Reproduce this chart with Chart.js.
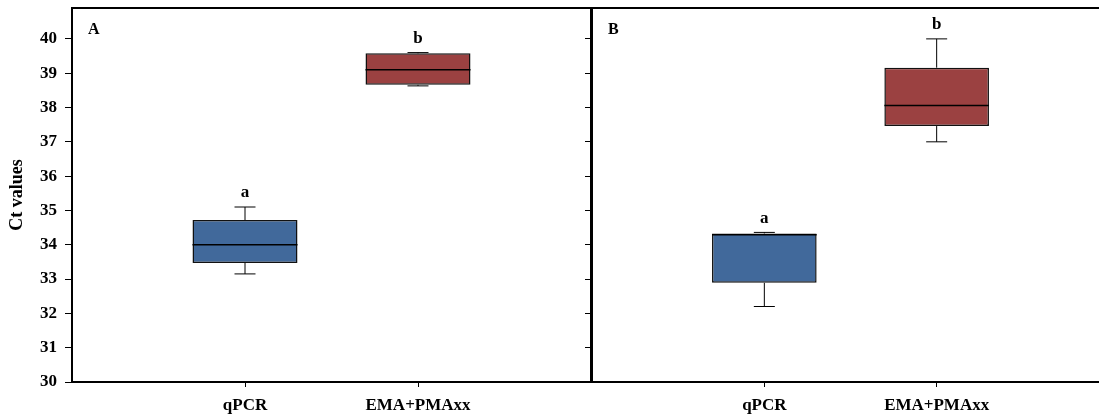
<!DOCTYPE html>
<html>
<head>
<meta charset="utf-8">
<script src="https://cdn.jsdelivr.net/npm/chart.js@4.4.1/dist/chart.umd.min.js"></script>
<style>
    html, body { margin: 0; padding: 0; background: #fff; overflow: hidden; width: 1099px; height: 419px; }
    canvas { position: absolute; top: 0; }
    #chartA { left: 0; }
    #chartB { left: 520px; }
</style>
</head>
<body>
<canvas id="chartA" width="600" height="419"></canvas>
<canvas id="chartB" width="600" height="419"></canvas>
<script>
// Data
const categories = ['qPCR', 'EMA+PMAxx'];
const letters = ['a', 'b'];
const yMin = 30;
const yMax = 40.9;

// Panel A
const lowA = [33.15, 38.63];
const q1A = [33.47, 38.66];
const medianA = [34.0, 39.1];
const q3A = [34.72, 39.58];
const highA = [35.1, 39.6];

// Panel B
const lowB = [32.2, 37.0];
const q1B = [32.89, 37.46];
const medianB = [34.29, 38.06];
const q3B = [34.33, 39.16];
const highB = [34.36, 40.0];

const boxColors = ['#41699b', '#9b4141'];
const serif = '"Liberation Serif", "Times New Roman", serif';

// whiskers, medians, letters and frame
const boxPlugin = {
    id: 'boxes',
    afterDatasetsDraw(chart, args, opts) {
        const { ctx, chartArea } = chart;
        const y = chart.scales.y;
        const bars = chart.getDatasetMeta(0).data;
        ctx.save();
        ctx.strokeStyle = '#000';
        categories.forEach((c, i) => {
            const bar = bars[i + 1];
            const cx = bar.x;
            const half = bar.width / 2;
            const yLow = y.getPixelForValue(opts.low[i]);
            const yHigh = y.getPixelForValue(opts.high[i]);
            const yQ1 = y.getPixelForValue(opts.q1[i]);
            const yQ3 = y.getPixelForValue(opts.q3[i]);
            const yMed = y.getPixelForValue(opts.median[i]);

            ctx.lineWidth = 1;
            ctx.beginPath();
            ctx.moveTo(cx, yQ3); ctx.lineTo(cx, yHigh);
            ctx.moveTo(cx, yQ1); ctx.lineTo(cx, yLow);
            ctx.moveTo(cx - 10.5, yHigh); ctx.lineTo(cx + 10.5, yHigh);
            ctx.moveTo(cx - 10.5, yLow); ctx.lineTo(cx + 10.5, yLow);
            ctx.stroke();

            ctx.lineWidth = 1.5;
            ctx.beginPath();
            ctx.moveTo(cx - half, yMed); ctx.lineTo(cx + half, yMed);
            ctx.stroke();

            ctx.fillStyle = '#000';
            ctx.font = 'bold 17px ' + serif;
            ctx.textAlign = 'center';
            ctx.textBaseline = 'middle';
            ctx.fillText(letters[i], cx, yHigh - 14);
        });

        ctx.font = 'bold 16px ' + serif;
        ctx.textAlign = 'left';
        ctx.textBaseline = 'middle';
        ctx.fillText(opts.panel, chartArea.left + 16, chartArea.top + 22);

        ctx.lineWidth = 2;
        ctx.strokeRect(chartArea.left, chartArea.top, chartArea.right - chartArea.left, chartArea.bottom - chartArea.top);
        ctx.restore();
    }
};

function makeChart(id, low, q1, median, q3, high, panel, showLabels, padRight) {
    const labels = ['', ...categories, ''];
    const boxes = [null, ...categories.map((c, i) => [q1[i], q3[i]]), null];
    return new Chart(document.getElementById(id), {
        type: 'bar',
        data: {
            labels: labels,
            datasets: [{
                data: boxes,
                backgroundColor: ['transparent', ...boxColors, 'transparent'],
                borderColor: '#111',
                borderWidth: 1.5,
                borderSkipped: false,
                categoryPercentage: 1,
                barPercentage: 0.607
            }]
        },
        options: {
            responsive: false,
            animation: false,
            layout: { padding: { top: 8, right: padRight, left: 0, bottom: 0 } },
            plugins: {
                legend: { display: false },
                tooltip: { enabled: false },
                boxes: { low, q1, median, q3, high, panel }
            },
            scales: {
                x: {
                    type: 'category',
                    offset: false,
                    afterFit: (s) => { s.height = 37; s.paddingLeft = 0; s.paddingRight = 0; },
                    grid: {
                        offset: false,
                        drawOnChartArea: false,
                        drawTicks: true,
                        tickLength: 5,
                        color: (ctx) => (ctx.tick && ctx.tick.label) ? '#000' : 'transparent'
                    },
                    border: { display: true, color: '#000', width: 2 },
                    ticks: {
                        autoSkip: false,
                        maxRotation: 0,
                        padding: 8,
                        color: '#000',
                        font: { family: serif, size: 17, weight: 'bold' }
                    }
                },
                y: {
                    min: yMin,
                    max: yMax,
                    afterFit: (s) => { s.width = 72; s.paddingTop = 0; s.paddingBottom = 0; },
                    grid: {
                        drawOnChartArea: false,
                        drawTicks: true,
                        tickLength: 7,
                        color: '#000'
                    },
                    border: { display: true, color: '#000', width: 2 },
                    ticks: {
                        stepSize: 1,
                        includeBounds: false,
                        padding: 8,
                        color: showLabels ? '#000' : 'transparent',
                        font: { family: serif, size: 17, weight: 'bold' }
                    },
                    title: {
                        display: showLabels,
                        text: 'Ct values',
                        color: '#000',
                        padding: { top: 7, bottom: 0 },
                        font: { family: serif, size: 18, weight: 'bold' }
                    }
                }
            }
        },
        plugins: [boxPlugin]
    });
}

makeChart('chartA', lowA, q1A, medianA, q3A, highA, 'A', true, 9);
makeChart('chartB', lowB, q1B, medianB, q3B, highB, 'B', false, 11);
</script>
</body>
</html>
